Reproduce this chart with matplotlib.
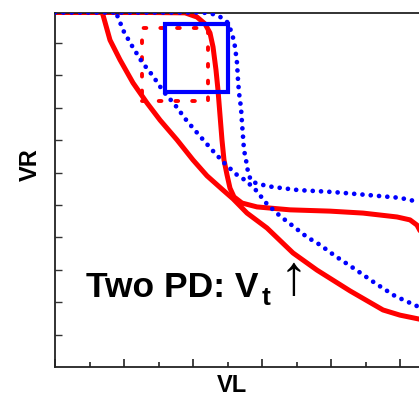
import numpy as np
import matplotlib
matplotlib.use("Agg")
import matplotlib.pyplot as plt
from matplotlib.patches import Rectangle

# curve A: red solid, convex
a_x = [0.652, 0.696, 0.797, 0.942, 1.130, 1.333, 1.522, 1.768, 2.000, 2.203, 2.435,
       2.580, 2.783, 3.072, 3.449, 3.797, 4.275, 4.754, 5.000, 5.275, 5.580]
a_y = [11.08, 10.86, 10.09, 9.48, 8.77, 8.15, 7.62, 7.01, 6.39, 5.90, 5.46,
       5.19, 4.75, 4.29, 3.52, 2.99, 2.35, 1.76, 1.60, 1.48, 1.39]

# curve B: red solid, steep drop then plateau
b_x = [0.0, 1.377, 1.884, 2.058, 2.174, 2.246, 2.290, 2.333, 2.362, 2.391, 2.420, 2.449,
       2.493, 2.536, 2.594, 2.710, 2.928, 3.406, 3.986, 4.464, 4.957, 5.145, 5.246, 5.362, 5.507]
b_y = [10.94, 10.94, 10.93, 10.80, 10.59, 10.31, 9.88, 9.17, 8.55, 7.78, 7.01, 6.39,
       5.93, 5.52, 5.25, 5.06, 4.94, 4.85, 4.81, 4.75, 4.63, 4.54, 4.38, 3.92, 3.30]

# curve C: blue dotted, convex
c_x = [0.884, 0.899, 1.000, 1.116, 1.261, 1.420, 1.565, 1.739, 1.913, 2.087, 2.275, 2.464, 2.652,
       2.754, 2.899, 3.072, 3.261, 3.449, 3.652, 3.841, 4.058, 4.348, 4.638, 4.928, 5.246, 5.580]
c_y = [11.08, 10.86, 10.34, 9.91, 9.41, 8.98, 8.52, 8.09, 7.59, 7.16, 6.70, 6.27, 5.90,
       5.77, 5.49, 5.03, 4.66, 4.35, 4.01, 3.77, 3.43, 3.02, 2.59, 2.19, 1.88, 1.57]

# curve D: blue dotted, steep drop then plateau
d_x = [0.0, 2.029, 2.174, 2.275, 2.377, 2.493, 2.565, 2.609, 2.638, 2.652, 2.667, 2.696, 2.710,
       2.725, 2.739, 2.768, 2.797, 2.841, 2.942, 3.145, 3.522, 4.029, 4.522, 5.000, 5.217, 5.580]
d_y = [10.94, 10.94, 10.93, 10.90, 10.83, 10.65, 10.31, 9.88, 9.38, 8.86, 8.46, 7.99, 7.53,
       7.10, 6.70, 6.39, 6.02, 5.74, 5.65, 5.56, 5.46, 5.40, 5.31, 5.22, 5.12, 5.03]

# boxes: (x0, y0, x1, y1)
red_box = (1.261, 8.21, 2.217, 10.46)
blue_box = (1.594, 8.49, 2.507, 10.59)

W, H = 419, 396
fig = plt.figure(figsize=(W / 100, H / 100), dpi=100)
ax = fig.add_axes([55 / W, 29 / H, 414 / W, 354.5 / H])

ax.plot(a_x, a_y, color="red", lw=3.6, solid_capstyle="round",
        solid_joinstyle="round", zorder=2)
ax.plot(b_x, b_y, color="red", lw=3.6, solid_capstyle="round",
        solid_joinstyle="round", zorder=2)
ax.plot(c_x, c_y, color="blue", lw=3.4, linestyle=(0, (0.01, 1.75)),
        dash_capstyle="round", zorder=3)
ax.plot(d_x, d_y, color="blue", lw=3.4, linestyle=(0, (0.01, 1.75)),
        dash_capstyle="round", zorder=3)

x0, y0, x1, y1 = red_box
ax.add_patch(Rectangle((x0, y0), x1 - x0, y1 - y0, fill=False, edgecolor="red",
                       lw=2.8, linestyle=(0, (0.7, 3.6)), capstyle="round", zorder=2))
x0, y0, x1, y1 = blue_box
ax.add_patch(Rectangle((x0, y0), x1 - x0, y1 - y0, fill=False, edgecolor="blue",
                       lw=3.0, joinstyle="miter", zorder=3))

ax.set_xlim(0, 6)
ax.set_ylim(0, 10.94)
ax.set_xticks(np.arange(0, 7, 1))
ax.set_xticks(np.arange(0.5, 6, 1), minor=True)
ax.set_yticks(np.arange(1, 11, 1))
ax.set_xticklabels([])
ax.set_yticklabels([])
ax.tick_params(axis="x", which="major", direction="in", length=6, width=1.2, color="#222222")
ax.tick_params(axis="x", which="minor", direction="in", length=3.5, width=1.2, color="#222222")
ax.tick_params(axis="y", direction="in", length=5, width=1.0, color="#333333")
for s in ax.spines.values():
    s.set_linewidth(1.3)
    s.set_color("#222222")

fig.text(232 / W, 1 - 385 / H, "VL", fontsize=17, fontweight="bold",
         family="Liberation Sans", ha="center", va="center")
fig.text(30 / W, 1 - 165 / H, "VR", fontsize=17, fontweight="bold", rotation=90,
         family="Liberation Sans", ha="center", va="center")

fig.text(86 / W, 1 - 297 / H, "Two PD: V", fontsize=25.5, fontweight="bold",
         family="Liberation Sans", ha="left", va="baseline")
fig.text(262 / W, 1 - 305 / H, "t", fontsize=19, fontweight="bold",
         family="Liberation Sans", ha="left", va="baseline")
fig.text(293 / W, 1 - 280 / H, "\u2191", fontsize=40,
         family=["Liberation Sans", "DejaVu Sans"], ha="center", va="center")

fig.savefig("out.png", dpi=100)
